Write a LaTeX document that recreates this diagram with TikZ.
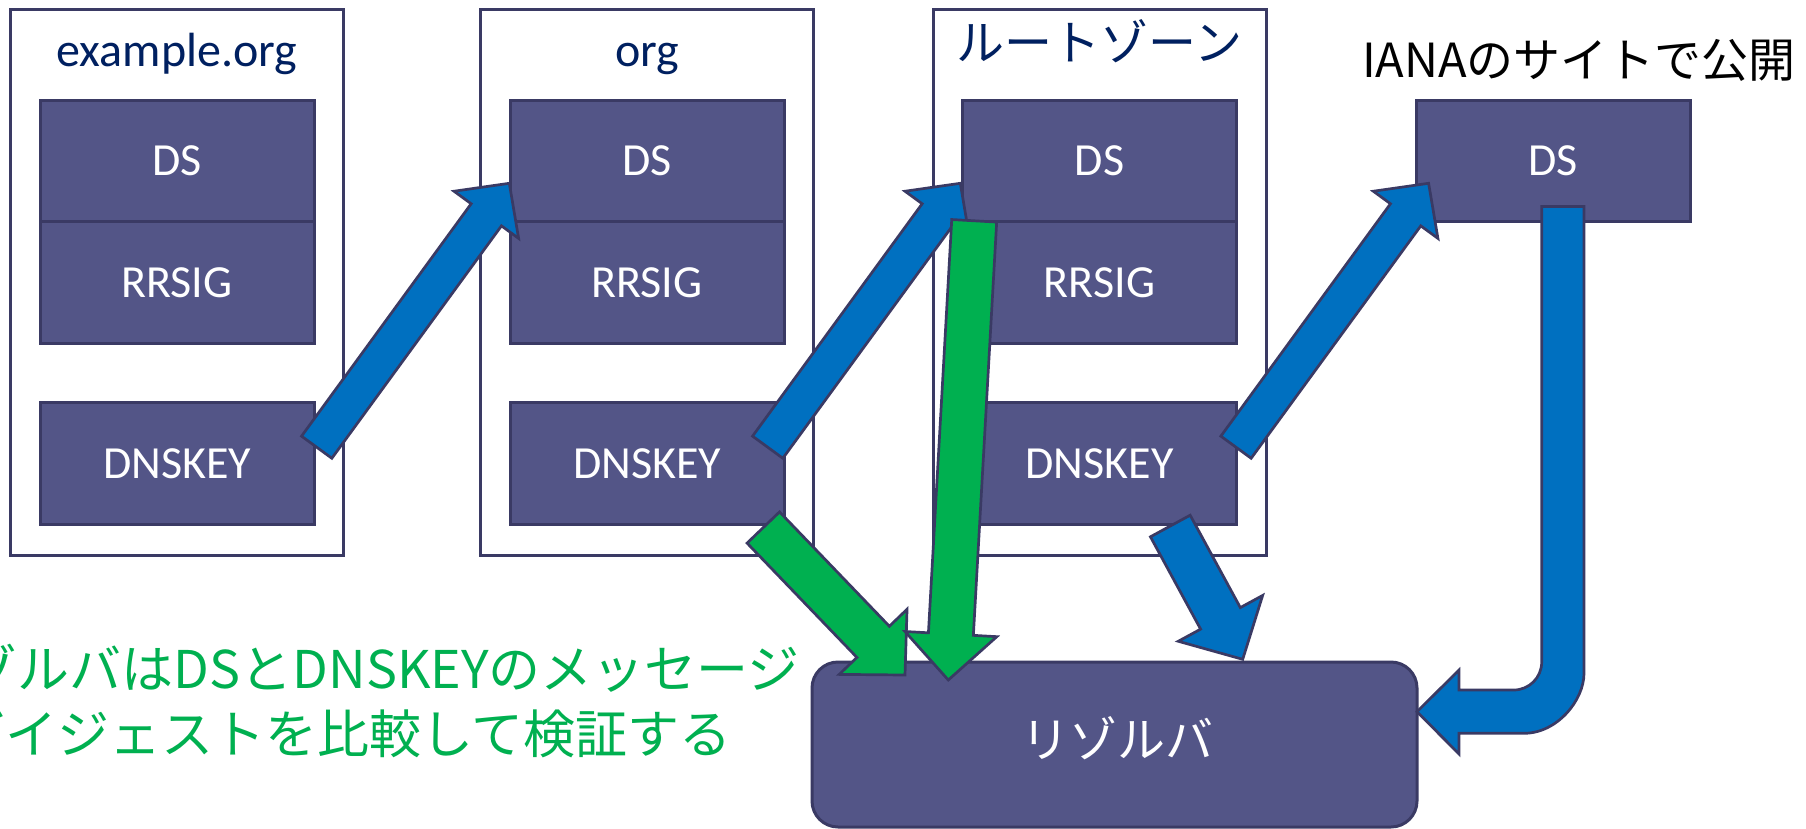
\documentclass[tikz,border=0pt]{standalone}
\usepackage{fontspec}
\setmainfont{Carlito}
\newfontfamily\jp{Noto Sans CJK JP}
\usetikzlibrary{calc}
\definecolor{boxfill}{RGB}{83,85,135}
\definecolor{boxline}{RGB}{58,58,100}
\definecolor{navy}{RGB}{0,32,96}
\definecolor{ablue}{RGB}{0,112,192}
\definecolor{agreen}{RGB}{0,176,80}
% tail, tip, half shaft width, half head width, head length, fill colour
\newcommand{\blockarrow}[6]{%
  \coordinate (#1-h) at ($(#2)!#5!(#1)$);
  \draw[arrowline, fill=#6]
    ($(#1)!#3!90:(#2)$) -- ($(#1-h)!#3!90:(#2)$) -- ($(#1-h)!#4!90:(#2)$) --
    (#2) --
    ($(#1-h)!#4!-90:(#2)$) -- ($(#1-h)!#3!-90:(#2)$) -- ($(#1)!#3!-90:(#2)$) -- cycle;
}
\begin{document}
\begin{tikzpicture}[x=1pt,y=-1pt,
  zone/.style={draw=boxline, line width=3pt, fill=white, minimum width=333pt,
    minimum height=546pt, inner sep=0pt, outer sep=0pt},
  rec/.style={draw=boxline, line width=3pt, fill=boxfill, text=white,
    minimum width=274pt, minimum height=121.5pt, inner sep=0pt, outer sep=0pt,
    font=\fontsize{46}{50}\selectfont},
  zlabel/.style={text=navy, inner sep=0pt, anchor=base, font=\fontsize{48}{56}\selectfont},
  jplabel/.style={inner sep=0pt, anchor=base, font=\jp\fontsize{48}{56}\selectfont},
  greentext/.style={text=agreen, inner sep=0pt, anchor=base east, font=\jp\fontsize{52}{60}\selectfont},
  arrowline/.style={draw=boxline, line width=2.7pt, line join=miter}]
\useasboundingbox (0,0) rectangle (1806,828);

% zones
\node[zone] (z1) at (177,282) {};
\node[zone] (z2) at (647,282) {};
\node[zone] (z3) at (1099.5,282) {};

% zone labels
\node[zlabel] (l1) at (177,66) {example.org};
\node[zlabel] (l2) at (647,66) {org};
\node[jplabel, text=navy] (l3) at (1099.5,60.5) {ルートゾーン};
\node[jplabel, text=black, font=\jp\fontsize{47}{54}\selectfont] (l4) at (1579,77) {IANAのサイトで公開};

% records
\node[rec] (ds1) at (177,160.75) {DS};
\node[rec] (rr1) at (177,282.25) {RRSIG};
\node[rec] (dk1) at (177,463.5) {DNSKEY};
\node[rec] (ds2) at (647,160.75) {DS};
\node[rec] (rr2) at (647,282.25) {RRSIG};
\node[rec] (dk2) at (647,463.5) {DNSKEY};
\node[rec] (ds3) at (1099.5,160.75) {DS};
\node[rec] (rr3) at (1099.5,282.25) {RRSIG};
\node[rec] (dk3) at (1099.5,463.5) {DNSKEY};
\node[rec] (ds4) at (1553,161) {DS};

% resolver
\node[rec, rounded corners=26pt, minimum width=605pt, minimum height=165pt] (res) at (1114.5,744.5) {};
\node[jplabel, text=white, anchor=center] (restext) at (1117,738.5) {リゾルバ};

% note
\node[greentext] (g1text) at (800,688) {リゾルバはDSとDNSKEYのメッセージ};
\node[greentext] (g2text) at (732,753) {ダイジェストを比較して検証する};

% arrow end points
\coordinate (a1t) at (316.7,447.2); \coordinate (a1p) at (509.3,183.3);
\coordinate (a2t) at (767.7,447.2); \coordinate (a2p) at (960.3,183.3);
\coordinate (a3t) at (1236,447.2);  \coordinate (a3p) at (1428.6,183.3);
\coordinate (a4t) at (1170.3,526);  \coordinate (a4p) at (1242.7,659.3);
\coordinate (g1t) at (763.3,527.5); \coordinate (g1p) at (905,675);
\coordinate (g2t) at (974.2,220.8); \coordinate (g2p) at (948.3,680);

% blue arrows
\blockarrow{a1t}{a1p}{18.75pt}{40pt}{39pt}{ablue}
\blockarrow{a2t}{a2p}{18.75pt}{40pt}{39pt}{ablue}
\blockarrow{a3t}{a3p}{18.75pt}{40pt}{39pt}{ablue}
\blockarrow{a4t}{a4p}{22.6pt}{48pt}{46.6pt}{ablue}

% U-shaped arrow from IANA DS to resolver
\draw[arrowline, fill=ablue]
  (1541.7,206.4) -- (1541.7,662) .. controls (1541.7,677.5) and (1529.2,690) .. (1513.7,690)
  -- (1459,690) -- (1459,670) -- (res.east |- 0,711.7) -- (1459,754) -- (1459,733.3)
  -- (1524,733.3) .. controls (1557.1,733.3) and (1584,700.2) .. (1584,673.3)
  -- (1584,206.4) -- cycle;

% green arrows
\blockarrow{g1t}{g1p}{22.5pt}{47pt}{46pt}{agreen}
\blockarrow{g2t}{g2p}{22.5pt}{46pt}{46pt}{agreen}
\end{tikzpicture}
\end{document}
